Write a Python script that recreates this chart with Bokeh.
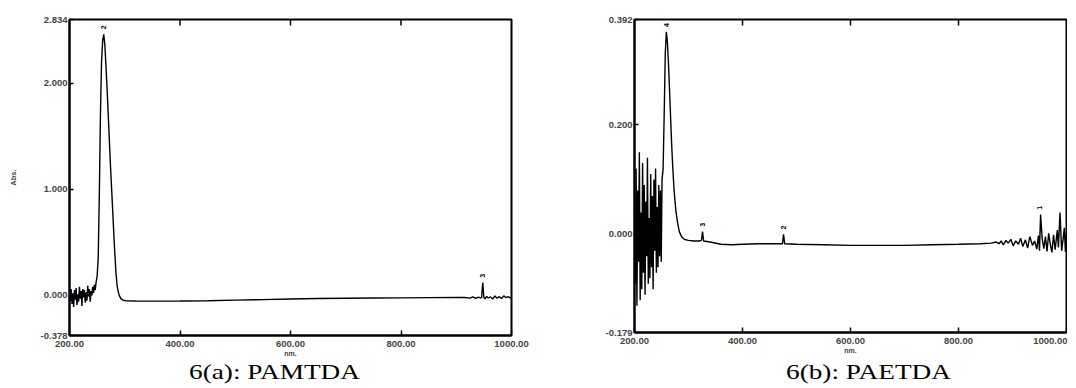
from bokeh.plotting import figure
from bokeh.models import Range1d, FixedTicker, Div
from bokeh.layouts import row, column
from bokeh.embed import file_html
from bokeh.resources import INLINE
from bokeh.core.properties import value

# ---------------- data ----------------
x_ticks = [200, 400, 600, 800, 1000]
x_inner_ticks = [400, 600, 800]
x_labels = ["200.00", "400.00", "600.00", "800.00", "1000.00"]

# 6(a) PAMTDA
wl_a = [200, 201.5, 203, 204.5, 206, 207.5, 209, 210.5, 212, 213.5, 215, 216.5, 218, 219.5,
        221, 222.5, 224, 225.5, 227, 228.5, 230, 231.5, 233, 234.5, 236, 237.5, 239, 240.5,
        242, 243.5, 245, 246.5, 248, 250, 252, 254, 256, 258, 260, 262, 264, 266, 268, 270,
        272, 274, 276, 278, 280, 282, 284, 286, 288, 290, 293, 297, 302, 320, 360, 400, 450,
        500, 550, 600, 650, 700, 750, 800, 850, 900, 915, 925, 930, 935, 940, 944, 946, 948,
        950, 952, 955, 958, 962, 966, 970, 974, 978, 982, 986, 990, 994, 998, 1000]
abs_a = [0.03, -0.05, 0.06, -0.08, 0.02, -0.11, 0.05, -0.04, 0.07, -0.09, 0.01, -0.06, 0.08, -0.03,
         0.04, -0.10, 0.06, -0.02, 0.05, -0.07, 0.03, -0.05, 0.09, -0.01, 0.06, -0.06, 0.04, 0.00,
         0.08, 0.02, 0.10, 0.05, 0.12, 0.18, 0.36, 0.95, 1.70, 2.20, 2.40, 2.46, 2.36, 2.16, 1.95, 1.72,
         1.48, 1.24, 1.03, 0.82, 0.60, 0.40, 0.22, 0.10, 0.04, 0.00, -0.03, -0.045, -0.05, -0.053, -0.054, -0.053, -0.05,
         -0.045, -0.04, -0.034, -0.03, -0.027, -0.025, -0.023, -0.021, -0.019, -0.02, -0.026, -0.013, -0.028, -0.016, -0.025, -0.018, 0.12,
         -0.02, -0.033, -0.01, -0.024, -0.015, -0.034, -0.006, -0.026, -0.012, -0.03, -0.004, -0.022, -0.011, -0.027, -0.008]
peaks_a_wl = [262, 948]
peaks_a_abs = [2.46, 0.12]
peaks_a_lbl = ["2", "3"]
y_ticks_a = [-0.378, 0.0, 1.0, 2.0, 2.60]
y_labels_a = ["-0.378", "0.000", "1.000", "2.000", "2.834"]

# 6(b) PAETDA
wl_b = [200, 201.5, 203, 204.5, 206, 207.5, 209, 210.5, 212, 213.5, 215, 216.5, 218, 219.5,
        221, 222.5, 224, 225.5, 227, 228.5, 230, 231.5, 233, 234.5, 236, 237.5, 239, 240.5,
        242, 243.5, 245, 246.5, 248, 249.5, 251,
        253, 255, 257, 259, 261, 263, 265, 267, 269, 271, 273, 275, 277, 280, 283, 287, 292,
        300, 310, 320, 324, 326, 328, 340, 360, 380, 400, 430, 460, 474, 476, 478, 500, 550,
        600, 650, 700, 750, 800, 840, 860, 870, 875, 879, 883, 888, 892, 897, 901, 906, 911, 915,
        919, 924, 928, 932, 937, 941, 945, 948, 950, 952, 955, 958, 961, 964, 967, 970, 973, 976,
        979, 983, 985, 988, 991, 994, 996, 998, 1000]
abs_b = [0.02, -0.09, 0.12, -0.13, 0.08, -0.05, 0.15, -0.12, 0.04, -0.10, 0.13, -0.07, 0.09, -0.11,
         0.06, -0.04, 0.14, -0.09, 0.03, -0.08, 0.11, -0.06, 0.07, -0.10, 0.10, -0.03, 0.12, -0.07,
         0.05, -0.06, 0.09, -0.04, 0.08, -0.05, 0.10,
         0.12, 0.22, 0.33, 0.369, 0.35, 0.31, 0.26, 0.21, 0.16, 0.12, 0.085, 0.06, 0.04, 0.02, 0.005, -0.004, -0.009,
         -0.011, -0.012, -0.012, -0.011, 0.005, -0.012, -0.014, -0.018, -0.019, -0.018, -0.017, -0.017, -0.017, 0.0, -0.017, -0.018, -0.019,
         -0.02, -0.02, -0.02, -0.019, -0.018, -0.017, -0.016, -0.014, -0.017, -0.012, -0.019, -0.011, -0.016, -0.009, -0.021, -0.012, -0.018, -0.007,
         -0.022, -0.01, -0.025, -0.004, -0.02, -0.012, -0.027, -0.002, -0.03, 0.036, -0.008, -0.026, -0.004, -0.031, 0.002, -0.018, -0.033, -0.001, -0.028, 0.008,
         -0.024, 0.04, -0.03, -0.006, 0.012, -0.032, 0.004, -0.026, 0.018, 0.064]
peaks_b_wl = [259, 326, 476, 950]
peaks_b_abs = [0.369, 0.005, 0.0, 0.036]
peaks_b_lbl = ["4", "3", "2", "1"]
y_ticks_b = [-0.179, 0.0, 0.2, 0.392]
y_labels_b = ["-0.179", "0.000", "0.200", "0.392"]

TICK_FONT = "Liberation Sans"


def make_panel(wl, ab, pk_wl, pk_abs, pk_lbl, yt, yl, y0, y1, border_left, frame_w,
               border_right, border_top, frame_h, ylabel):
    p = figure(output_backend="svg", toolbar_location=None,
               x_range=Range1d(200, 1000), y_range=Range1d(y0, y1),
               frame_width=frame_w, frame_height=frame_h,
               min_border_left=border_left, min_border_right=border_right,
               min_border_top=border_top, min_border_bottom=27,
               background_fill_color="white", border_fill_color="white")
    p.grid.visible = False
    p.outline_line_color = "black"
    p.outline_line_width = 2

    # bottom axis
    xa = p.xaxis[0]
    xa.ticker = FixedTicker(ticks=x_ticks, minor_ticks=[])
    xa.major_label_overrides = dict(zip(x_ticks, x_labels))
    xa.major_tick_in = 5
    xa.major_tick_out = 0
    xa.major_tick_line_width = 1.5
    xa.axis_line_width = 2
    xa.major_label_standoff = 5
    xa.major_label_text_font = TICK_FONT
    xa.major_label_text_font_style = "bold"
    xa.major_label_text_font_size = "9.5px"
    xa.axis_label = "nm."
    xa.axis_label_text_font = TICK_FONT
    xa.axis_label_text_font_style = "bold"
    xa.axis_label_text_font_size = "7px"
    xa.axis_label_standoff = 0

    # inner tick marks along the top edge
    p.scatter(x=x_inner_ticks, y=[y1] * len(x_inner_ticks), marker="dash", angle=1.5708,
              size=12, line_color="black", line_width=1.5)

    # left axis
    ya = p.yaxis[0]
    ya.ticker = FixedTicker(ticks=yt, minor_ticks=[])
    ya.major_label_overrides = dict(zip(yt, yl))
    ya.major_tick_in = 4
    ya.major_tick_out = 0
    ya.major_tick_line_width = 1.5
    ya.axis_line_width = 2
    ya.major_label_standoff = 2
    ya.major_label_text_font = TICK_FONT
    ya.major_label_text_font_style = "bold"
    ya.major_label_text_font_size = "9.5px"
    if ylabel:
        ya.axis_label = ylabel
        ya.axis_label_text_font = TICK_FONT
        ya.axis_label_text_font_style = "bold"
        ya.axis_label_text_font_size = "7.5px"
        ya.axis_label_standoff = 20

    p.line(wl, ab, line_color="black", line_width=1.4)
    p.text(x=pk_wl, y=pk_abs, text=pk_lbl, angle=1.5708, y_offset=-5,
           text_font=value(TICK_FONT), text_font_style="bold", text_font_size="7px",
           text_align="left", text_baseline="middle", text_color="black")
    return p


p_a = make_panel(wl_a, abs_a, peaks_a_wl, peaks_a_abs, peaks_a_lbl, y_ticks_a, y_labels_a,
                 -0.378, 2.60, 69, 442, 56, 16, 316, "Abs.")
p_b = make_panel(wl_b, abs_b, peaks_b_wl, peaks_b_abs, peaks_b_lbl, y_ticks_b, y_labels_b,
                 -0.179, 0.392, 67, 432, 1, 19, 313, None)

cap_style = ("font-family:'Liberation Serif';font-size:22px;line-height:26px;color:#000;"
             "white-space:nowrap;margin:0;padding:0;")
cap_a = Div(text=f'<div style="{cap_style}padding-left:189px;"><span style="display:inline-block;'
                 f'transform:scaleX(1.24);transform-origin:left center;">6(a): PAMTDA</span></div>',
            width=567, height=26, margin=0)
cap_b = Div(text=f'<div style="{cap_style}padding-left:219px;"><span style="display:inline-block;'
                 f'transform:scaleX(1.24);transform-origin:left center;">6(b): PAETDA</span></div>',
            width=500, height=26, margin=0)

layout = column(row(p_a, p_b, spacing=0), row(cap_a, cap_b, spacing=0), spacing=0)

with open("out.html", "w") as f:
    f.write(file_html(layout, INLINE))
